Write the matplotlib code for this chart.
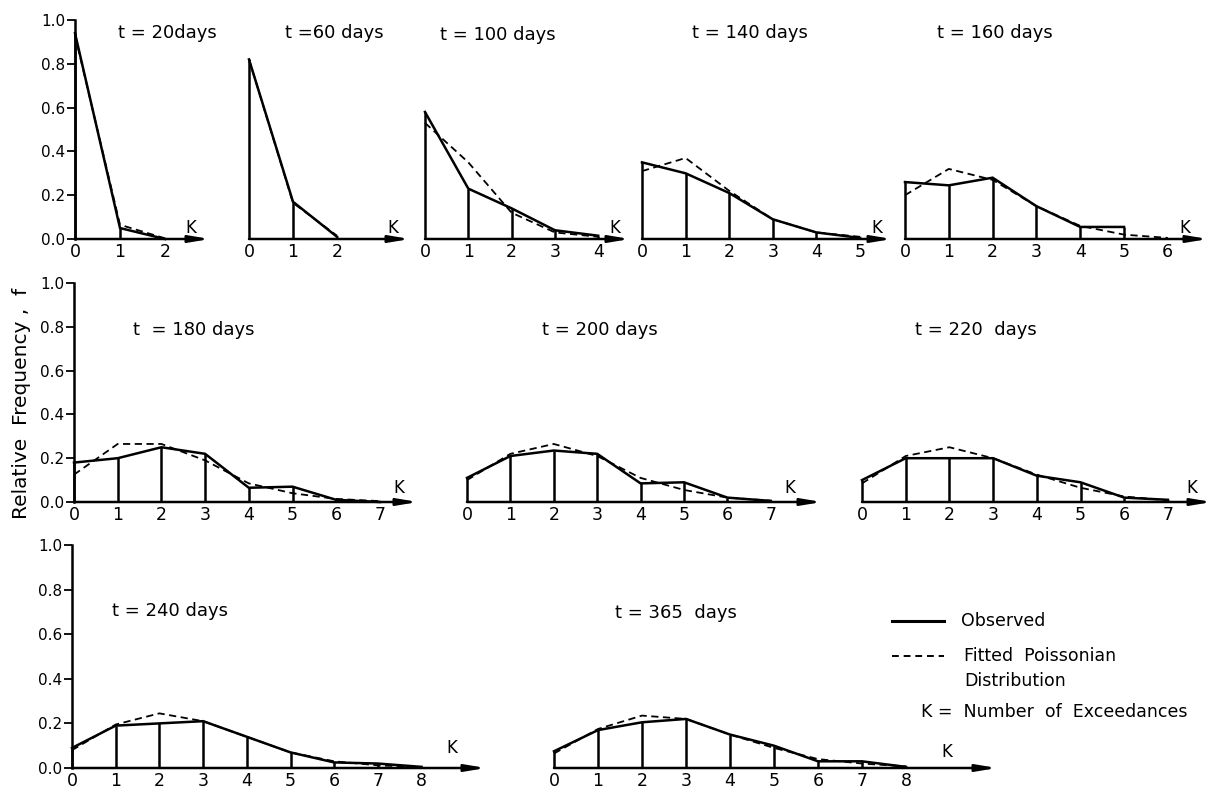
import matplotlib
matplotlib.use("Agg")
import matplotlib.pyplot as plt

# ---------------- data ----------------
titles = ["t = 20days", "t =60 days", "t = 100 days", "t = 140 days", "t = 160 days",
          "t  = 180 days", "t = 200 days", "t = 220  days", "t = 240 days", "t = 365  days"]

k_20 = [0, 1, 2]
obs_20 = [0.94, 0.05, 0.0]
fit_20 = [0.93, 0.065, 0.003]

k_60 = [0, 1, 2]
obs_60 = [0.82, 0.17, 0.01]
fit_60 = [0.82, 0.165, 0.015]

k_100 = [0, 1, 2, 3, 4]
obs_100 = [0.58, 0.23, 0.14, 0.04, 0.015]
fit_100 = [0.53, 0.35, 0.12, 0.03, 0.01]

k_140 = [0, 1, 2, 3, 4, 5]
obs_140 = [0.35, 0.30, 0.21, 0.09, 0.03, 0.005]
fit_140 = [0.31, 0.37, 0.22, 0.09, 0.03, 0.01]

k_160 = [0, 1, 2, 3, 4, 5, 6]
obs_160 = [0.26, 0.245, 0.28, 0.15, 0.055, 0.055]
fit_160 = [0.20, 0.32, 0.27, 0.15, 0.06, 0.02, 0.005]

k_180 = [0, 1, 2, 3, 4, 5, 6, 7]
obs_180 = [0.18, 0.20, 0.25, 0.22, 0.065, 0.07, 0.01, 0.0]
fit_180 = [0.125, 0.265, 0.265, 0.19, 0.085, 0.04, 0.014, 0.004]

k_200 = [0, 1, 2, 3, 4, 5, 6, 7]
obs_200 = [0.11, 0.21, 0.235, 0.22, 0.085, 0.09, 0.02, 0.005]
fit_200 = [0.10, 0.22, 0.265, 0.21, 0.11, 0.055, 0.02, 0.006]

k_220 = [0, 1, 2, 3, 4, 5, 6, 7]
obs_220 = [0.10, 0.20, 0.20, 0.20, 0.12, 0.09, 0.02, 0.01]
fit_220 = [0.085, 0.21, 0.25, 0.20, 0.125, 0.065, 0.025, 0.008]

k_240 = [0, 1, 2, 3, 4, 5, 6, 7, 8]
obs_240 = [0.09, 0.19, 0.20, 0.21, 0.14, 0.07, 0.025, 0.02, 0.005]
fit_240 = [0.08, 0.195, 0.245, 0.21, 0.14, 0.07, 0.03, 0.012, 0.004]

k_365 = [0, 1, 2, 3, 4, 5, 6, 7, 8]
obs_365 = [0.075, 0.17, 0.205, 0.22, 0.15, 0.10, 0.03, 0.03, 0.005]
fit_365 = [0.065, 0.175, 0.235, 0.22, 0.15, 0.09, 0.04, 0.02, 0.007]

y_ticks = [0.0, 0.2, 0.4, 0.6, 0.8, 1.0]
y_ticklabels = ["0.0", "0.2", "0.4", "0.6", "0.8", "1.0"]

ylabel_text = "Relative  Frequency ,  f"
legend_obs = "Observed"
legend_fit = ["Fitted  Poissonian", "Distribution"]
legend_k = "K =  Number  of  Exceedances"

panel_k = [k_20, k_60, k_100, k_140, k_160, k_180, k_200, k_220, k_240, k_365]
panel_obs = [obs_20, obs_60, obs_100, obs_140, obs_160, obs_180, obs_200, obs_220, obs_240, obs_365]
panel_fit = [fit_20, fit_60, fit_100, fit_140, fit_160, fit_180, fit_200, fit_220, fit_240, fit_365]

# ---------------- layout (pixels) ----------------
W, H = 1216, 794
rows = {0: (239, 20), 1: (502, 283), 2: (768, 545)}   # (baseline, y=1 top)
# row, x0, px per unit, arrow end, K label (x, y), title (x, y), show y axis
layout = [
    (0, 75, 45.0, 210, (191, 228), (118, 33), True),
    (0, 249, 44.0, 410, (393, 228), (285, 33), False),
    (0, 425, 43.3, 630, (615, 228), (440, 35), False),
    (0, 642, 43.6, 892, (877, 228), (692, 33), False),
    (0, 905, 43.8, 1208, (1185, 228), (937, 33), False),
    (1, 74, 43.7, 418, (399, 488), (133, 330), True),
    (1, 467, 43.4, 822, (790, 488), (542, 330), False),
    (1, 862, 43.7, 1212, (1192, 488), (915, 330), False),
    (2, 72, 43.7, 486, (452, 748), (112, 611), True),
    (2, 554, 44.0, 997, (947, 752), (615, 613), False),
]

plt.rcParams['font.family'] = ['DejaVu Sans']
fig = plt.figure(figsize=(W / 100, H / 100), dpi=100)
fig.patch.set_facecolor('white')

LW = 1.8
for i, (r, x0, dx, xend, kpos, tpos, showy) in enumerate(layout):
    base, top = rows[r]
    ax = fig.add_axes([x0 / W, 1 - base / H, (xend - x0) / W, (base - top) / H])
    ax.set_xlim(0, (xend - x0) / dx)
    ax.set_ylim(0, 1)
    ax.patch.set_alpha(0)
    for s in ['top', 'right', 'bottom']:
        ax.spines[s].set_visible(False)
    ks, ob, ft = panel_k[i], panel_obs[i], panel_fit[i]
    ko = ks[:len(ob)]
    ax.vlines(ko, 0, ob, colors='k', lw=LW, clip_on=False)
    ax.plot(ko, ob, color='k', lw=LW, clip_on=False, solid_joinstyle='miter')
    ax.plot(ks[:len(ft)], ft, color='k', lw=1.3, ls=(0, (4, 2.5)), clip_on=False)
    ax.annotate('', xy=((xend - x0) / dx, 0), xytext=(0, 0), xycoords='data',
                arrowprops=dict(arrowstyle='-|>,head_length=1.2,head_width=0.2',
                                color='k', lw=LW, shrinkA=0, shrinkB=0),
                annotation_clip=False)
    ax.set_xticks(ks)
    ax.set_xticklabels([str(k) for k in ks], fontsize=12.5)
    ax.tick_params(axis='x', length=0, pad=3)
    if showy:
        ax.spines['left'].set_linewidth(LW)
        ax.set_yticks(y_ticks)
        ax.set_yticklabels(y_ticklabels, fontsize=11)
        ax.tick_params(axis='y', length=6, width=1.3, pad=1, direction='out')
    else:
        ax.spines['left'].set_visible(False)
        ax.set_yticks([])
    fig.text(kpos[0] / W, 1 - kpos[1] / H, 'K', fontsize=12, ha='center', va='center')
    fig.text(tpos[0] / W, 1 - tpos[1] / H, titles[i], fontsize=13, ha='left', va='center')

# y label
fig.text(22 / W, 1 - 403 / H, ylabel_text, rotation=90, fontsize=14.5,
         ha='center', va='center')

# legend
leg = fig.add_axes([0, 0, 1, 1])
leg.set_xlim(0, W)
leg.set_ylim(H, 0)
leg.axis('off')
leg.patch.set_alpha(0)
leg.plot([892, 944], [621, 621], color='k', lw=2.2)
leg.plot([892, 944], [656, 656], color='k', lw=1.4, ls=(0, (3.5, 2.5)))
leg.text(961, 621, legend_obs, fontsize=12.5, ha='left', va='center')
leg.text(964, 656, legend_fit[0], fontsize=12.5, ha='left', va='center')
leg.text(964, 681, legend_fit[1], fontsize=12.5, ha='left', va='center')
leg.text(921, 712, legend_k, fontsize=12.5, ha='left', va='center')

fig.savefig('out.png', dpi=100, facecolor='white')
